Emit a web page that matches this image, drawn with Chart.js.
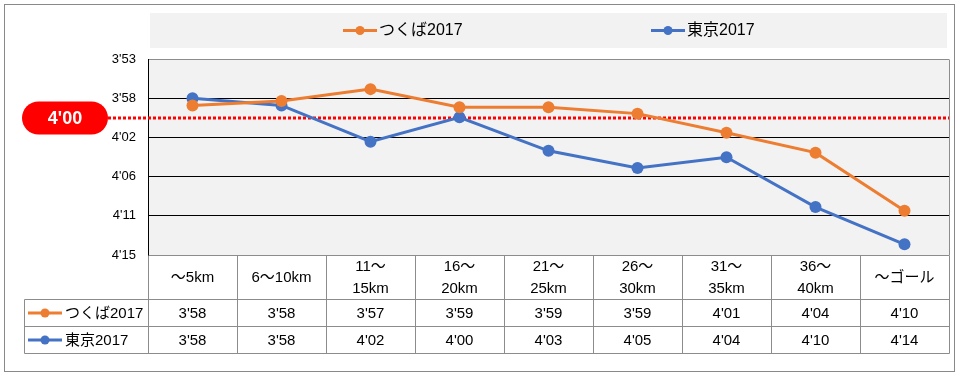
<!DOCTYPE html>
<html lang="ja">
<head>
<meta charset="utf-8">
<title>ペース比較</title>
<script src="https://cdn.jsdelivr.net/npm/chart.js@4/dist/chart.umd.min.js"></script>
<style>
  html, body { margin: 0; padding: 0; background: #fff; }
  canvas { display: block; }
</style>
</head>
<body>
<canvas id="paceChart" width="965" height="376"></canvas>
<script>
// 区間 (table header / x categories)
const sections = [["～5km"], ["6～10km"], ["11～", "15km"], ["16～", "20km"], ["21～", "25km"],
  ["26～", "30km"], ["31～", "35km"], ["36～", "40km"], ["～ゴール"]];
// pace per km in seconds
const tsukuba2017 = [238.4, 237.9, 236.6, 238.6, 238.6, 239.3, 241.4, 243.6, 250.0];
const tokyo2017 = [237.6, 238.4, 242.4, 239.7, 243.4, 245.3, 244.1, 249.6, 253.7];
const seriesNames = ["つくば2017", "東京2017"];
const seriesColors = ["#ED7D31", "#4472C4"];
const paceTicks = [233.28, 237.6, 241.92, 246.24, 250.56, 254.88];
// 4'00 target, drawn slightly above the exact value as in the original shape
const targetPace = 239.8;

const FONT = 'Arial, "Liberation Sans", "Noto Sans CJK JP", sans-serif';
const LINE_GRAY = "#8c8c8c";

const fmtPace = (sec) => {
  const s = Math.round(sec);
  return `${Math.floor(s / 60)}'${String(s % 60).padStart(2, "0")}`;
};

const drawMarker = (ctx, x, y, color) => {
  ctx.save();
  ctx.strokeStyle = color;
  ctx.lineWidth = 3;
  ctx.beginPath();
  ctx.moveTo(x, y);
  ctx.lineTo(x + 34, y);
  ctx.stroke();
  ctx.fillStyle = color;
  ctx.beginPath();
  ctx.arc(x + 17, y, 4.5, 0, Math.PI * 2);
  ctx.fill();
  ctx.restore();
};

const paceFrame = {
  id: "paceFrame",
  beforeDraw(chart) {
    const { ctx, chartArea: area } = chart;
    ctx.save();
    ctx.fillStyle = "#fff";
    ctx.fillRect(0, 0, chart.width, chart.height);
    ctx.strokeStyle = "#898989";
    ctx.lineWidth = 1;
    ctx.strokeRect(4.5, 4.5, 950, 367);

    // legend box
    const box = { x: 150, y: 13, w: 797, h: 35 };
    ctx.fillStyle = "#f2f2f2";
    ctx.fillRect(box.x, box.y, box.w, box.h);
    const itemX = [box.x + 193, box.x + 501];
    ctx.font = `16px ${FONT}`;
    ctx.textBaseline = "middle";
    ctx.textAlign = "left";
    chart.data.datasets.forEach((ds, i) => {
      drawMarker(ctx, itemX[i], 30.5, ds.borderColor);
      ctx.fillStyle = "#000";
      ctx.fillText(ds.label, itemX[i] + 36, 31);
    });

    // plot background
    ctx.fillStyle = "#f2f2f2";
    ctx.fillRect(area.left, area.top, area.right - area.left, area.bottom - area.top);
    ctx.restore();
  },
  beforeDatasetsDraw(chart) {
    const { ctx, chartArea: area, scales } = chart;
    const y = Math.round(scales.y.getPixelForValue(targetPace));
    ctx.save();
    // 4'00 target line
    ctx.strokeStyle = "#ff0000";
    ctx.lineWidth = 3;
    ctx.setLineDash([3, 2]);
    ctx.beginPath();
    ctx.moveTo(108, y);
    ctx.lineTo(area.right, y);
    ctx.stroke();
    ctx.setLineDash([]);
    // pill label
    const l = 22, r = 108, h = 33, rad = h / 2;
    ctx.fillStyle = "#ff0000";
    ctx.beginPath();
    ctx.moveTo(l + rad, y - rad);
    ctx.lineTo(r - rad, y - rad);
    ctx.arc(r - rad, y, rad, -Math.PI / 2, Math.PI / 2);
    ctx.lineTo(l + rad, y + rad);
    ctx.arc(l + rad, y, rad, Math.PI / 2, Math.PI * 1.5);
    ctx.closePath();
    ctx.fill();
    ctx.fillStyle = "#fff";
    ctx.font = `bold 18px ${FONT}`;
    ctx.textAlign = "center";
    ctx.textBaseline = "middle";
    ctx.fillText(fmtPace(targetPace), (l + r) / 2, y + 1);
    ctx.restore();
  },
  afterDraw(chart) {
    const { ctx, chartArea: area, scales } = chart;
    const xs = scales.x;
    const half = (xs.getPixelForValue(1) - xs.getPixelForValue(0)) / 2;
    const top = area.bottom;
    const rows = [top + 44, top + 71, top + 98];
    const labelLeft = 24.5;
    const px = (v) => Math.round(v) + 0.5;

    ctx.save();
    // plot right border
    ctx.strokeStyle = LINE_GRAY;
    ctx.lineWidth = 1;
    ctx.beginPath();
    ctx.moveTo(px(area.right), px(area.top));
    ctx.lineTo(px(area.right), px(area.bottom));
    // table grid
    rows.forEach((ry) => {
      ctx.moveTo(labelLeft, px(ry));
      ctx.lineTo(px(area.right), px(ry));
    });
    ctx.moveTo(labelLeft, px(rows[0]));
    ctx.lineTo(labelLeft, px(rows[2]));
    for (let i = 0; i <= sections.length; i++) {
      const cx = px(area.left + i * half * 2);
      ctx.moveTo(cx, px(top));
      ctx.lineTo(cx, px(rows[2]));
    }
    ctx.stroke();

    // header labels
    ctx.fillStyle = "#000";
    ctx.font = `15px ${FONT}`;
    ctx.textAlign = "center";
    ctx.textBaseline = "middle";
    const headMid = (top + rows[0]) / 2 + 0.5;
    sections.forEach((lines, i) => {
      const cx = xs.getPixelForValue(i);
      lines.forEach((txt, j) => {
        ctx.fillText(txt, cx, headMid + (j - (lines.length - 1) / 2) * 22);
      });
    });

    // values
    chart.data.datasets.forEach((ds, r) => {
      const mid = (rows[r] + rows[r + 1]) / 2 + 1;
      ds.data.forEach((v, i) => {
        ctx.textAlign = "center";
        ctx.fillText(fmtPace(v), xs.getPixelForValue(i), mid);
      });
      drawMarker(ctx, 28, mid - 0.5, ds.borderColor);
      ctx.textAlign = "left";
      ctx.fillText(ds.label, 65, mid);
    });
    ctx.restore();
  },
};

const makeSeries = (label, data, color) => ({
  label,
  data,
  borderColor: color,
  backgroundColor: color,
  borderWidth: 3,
  pointRadius: 6,
  pointHoverRadius: 6,
  pointBorderWidth: 0,
  pointBackgroundColor: color,
  tension: 0,
});

new Chart(document.getElementById("paceChart"), {
  type: "line",
  data: {
    labels: sections,
    datasets: [
      makeSeries(seriesNames[0], tsukuba2017, seriesColors[0]),
      makeSeries(seriesNames[1], tokyo2017, seriesColors[1]),
    ],
  },
  options: {
    responsive: false,
    animation: false,
    devicePixelRatio: 1,
    layout: { padding: { top: 59, right: 16, bottom: 121, left: 0 } },
    plugins: { legend: { display: false }, tooltip: { enabled: false } },
    scales: {
      x: { type: "category", offset: true, display: false },
      y: {
        type: "linear",
        reverse: true,
        min: paceTicks[0],
        max: paceTicks[paceTicks.length - 1],
        afterBuildTicks: (s) => { s.ticks = paceTicks.map((v) => ({ value: v })); },
        afterFit: (s) => { s.width = 148; },
        ticks: {
          callback: (v) => fmtPace(v),
          color: "#000",
          padding: 12,
          font: { size: 13, family: FONT },
        },
        grid: {
          drawTicks: false,
          lineWidth: 1,
          color: (c) => (c.index === 0 || c.index === paceTicks.length - 1 ? LINE_GRAY : "#000"),
        },
        border: { color: "#000", width: 1 },
      },
    },
  },
  plugins: [paceFrame],
});
</script>
</body>
</html>
